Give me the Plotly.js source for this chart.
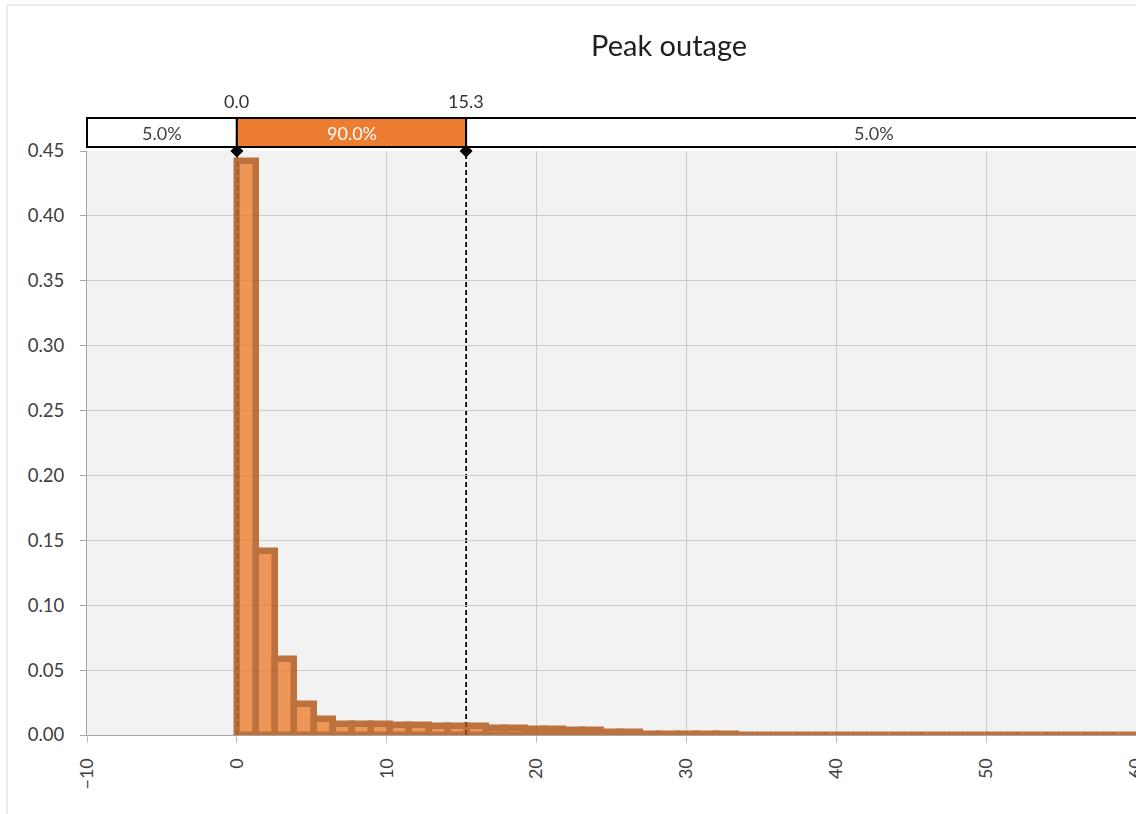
<!DOCTYPE html>
<html>
<head>
<meta charset="utf-8">
<script src="https://cdn.plot.ly/plotly-3.0.1.min.js"></script>
<style>html,body{margin:0;padding:0;background:#fff;}#chart{width:1136px;height:814px;}</style>
</head>
<body>
<div id="chart"></div>
<script>
// ---- data ----
const chartTitle = "Peak outage";
const binStart = 0;
const binWidth = 1.28;
const density = [
  0.442, 0.142, 0.0586, 0.024, 0.0123, 0.0088, 0.0088, 0.0087, 0.0080, 0.0078,
  0.0068, 0.0067, 0.0066, 0.0056, 0.0054, 0.0047, 0.0046, 0.0037, 0.0036, 0.0021,
  0.0020, 0.0008, 0.0007, 0.0006, 0.0005, 0.0004, 0.0003, 0.0003, 0.0002, 0.0002,
  0.0002, 0.0002, 0.0002, 0.0001, 0.0001, 0.0001, 0.0001, 0.0001, 0.0001, 0.0001,
  0.0001, 0.0001, 0.0001, 0.0001, 0.0001, 0.0001, 0.0001
];
const percentileValues = [0.0, 15.3];
const percentileLabels = ["0.0", "15.3"];
const bandShares = ["5.0%", "90.0%", "5.0%"];
const xRange = [-10, 60];
const yRange = [0, 0.45];
const bandRightEnd = 69.7;

// ---- derived ----
const binLeft = density.map((_, i) => binStart + i * binWidth);
const FONT = "Lato, 'Open Sans', sans-serif";
const px = v => (v - xRange[0]) / (xRange[1] - xRange[0]);

const bandY0 = 1.0068, bandY1 = 1.0565, bandMid = (bandY0 + bandY1) / 2;
const edges = [xRange[0], percentileValues[0], percentileValues[1], bandRightEnd];
const bandFill = ["#FFFFFF", "#ED7D31", "#FFFFFF"];
const bandText = ["#404040", "#FFFFFF", "#404040"];

const shapes = [];
const annotations = [];
// outer chart border
shapes.push({type: "rect", xref: "paper", yref: "paper", x0: -0.0763, x1: 1.2, y0: -0.3, y1: 1.25,
  line: {color: "#D9D9D9", width: 1}, fillcolor: "rgba(0,0,0,0)", layer: "below"});
for (let i = 0; i < 3; i++) {
  shapes.push({type: "rect", xref: "paper", yref: "paper",
    x0: px(edges[i]), x1: px(edges[i + 1]), y0: bandY0, y1: bandY1,
    fillcolor: bandFill[i], line: {color: "#000000", width: 2}});
  annotations.push({xref: "x", yref: "paper", x: (edges[i] + edges[i + 1]) / 2, y: bandMid,
    text: bandShares[i], showarrow: false, xanchor: "center", yanchor: "middle",
    font: {family: FONT, size: 18, color: bandText[i]}});
}
percentileValues.forEach((v, i) => {
  shapes.push({type: "line", xref: "x", yref: "y", x0: v, x1: v, y0: yRange[0], y1: yRange[1],
    line: {color: "#000000", width: 1.8, dash: "5px,3px"}, layer: "below"});
  annotations.push({xref: "x", yref: "paper", x: v, y: 1.0856, text: percentileLabels[i],
    showarrow: false, xanchor: "center", yanchor: "middle",
    font: {family: FONT, size: 18, color: "#333333"}});
});

const traces = [
  {
    type: "bar", x: binLeft, y: density, width: binWidth, offset: 0,
    marker: {color: "#ED7D31", line: {color: "#B0500F", width: 6.5}},
    opacity: 0.8, hoverinfo: "x+y", showlegend: false
  },
  {
    type: "scatter", mode: "markers", x: percentileValues,
    y: percentileValues.map(() => yRange[1]),
    marker: {symbol: "diamond", size: 10, color: "#000000"},
    cliponaxis: false, showlegend: false, hoverinfo: "skip"
  }
];

const layout = {
  width: 1136, height: 814,
  margin: {l: 87, r: 0, t: 151, b: 79, pad: 0},
  paper_bgcolor: "#FFFFFF", plot_bgcolor: "#F2F2F2",
  title: {text: chartTitle, font: {family: FONT, size: 29, color: "#1F1F1F"},
    x: 0.589, xanchor: "center", y: 1 - 46 / 814, yanchor: "middle", xref: "container", yref: "container"},
  bargap: 0,
  xaxis: {
    range: xRange, dtick: 10, tick0: 0, tickangle: -90,
    showgrid: true, gridcolor: "#CCCCCC", gridwidth: 1,
    showline: true, linecolor: "#A6A6A6", linewidth: 1,
    ticks: "outside", ticklen: 7, tickcolor: "#BFBFBF", ticklabelstandoff: 8,
    ticklabeloverflow: "allow",
    zeroline: false, tickfont: {family: FONT, size: 18, color: "#404040"}
  },
  yaxis: {
    range: yRange, dtick: 0.05, tick0: 0, tickformat: ".2f",
    showgrid: true, gridcolor: "#CCCCCC", gridwidth: 1,
    showline: true, linecolor: "#A6A6A6", linewidth: 1,
    ticks: "outside", ticklen: 6, tickcolor: "#A6A6A6", ticklabelstandoff: 12,
    zeroline: false, tickfont: {family: FONT, size: 18.5, color: "#404040"}
  },
  shapes: shapes,
  annotations: annotations,
  showlegend: false
};

Plotly.newPlot("chart", traces, layout, {displayModeBar: false, responsive: false});
</script>
</body>
</html>
